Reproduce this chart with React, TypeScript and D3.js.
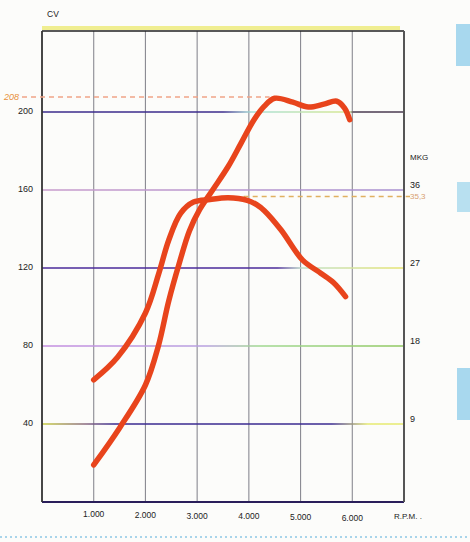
import React from "react";
import * as d3 from "d3";

const W = 470;
const H = 542;

// X axis ticks (RPM)
const rpmTicks = [1000, 2000, 3000, 4000, 5000, 6000];
const rpmLabels = ["1.000", "2.000", "3.000", "4.000", "5.000", "6.000"];

// Left axis (CV)
const cvTicks = [40, 80, 120, 160, 200];
// Right axis (MKG)
const mkgTicks = [9, 18, 27, 36];

// Power curve (CV)
const powerRpm = [1000, 1500, 2000, 2250, 2450, 2650, 2850, 3050, 3300, 3600, 3850, 4100, 4300, 4500, 4850, 5150, 5450, 5700, 5850, 5950];
const powerCv = [19, 38, 60, 80, 103, 122, 139, 150, 160, 172, 184, 196, 203, 207, 205, 202.5, 204, 205.5, 202, 196];

// Torque curve (MKG)
const torqueRpm = [1000, 1460, 2000, 2260, 2450, 2680, 2930, 3250, 3600, 3970, 4150, 4300, 4620, 5040, 5390, 5640, 5870];
const torqueMkg = [14.1, 16.7, 21.8, 26.4, 30.2, 33.3, 34.6, 34.9, 35.1, 34.8, 34.3, 33.6, 31.4, 27.9, 26.4, 25.3, 23.7];

// Max markers
const maxCv = 207.7;
const maxCvLabel = "208";
const maxMkg = 35.25;
const maxMkgLabel = "35,3";

// Gridline colour stops per CV value
const gridColors: Record<number, [number, string][]> = {
  200: [[0, "#3b2b8c"], [0.5, "#3b2b8c"], [0.58, "#a8e0d8"], [0.85, "#d8e890"], [0.86, "#4a3a50"], [1, "#4a3a50"]],
  160: [[0, "#c89ccc"], [1, "#a890d0"]],
  120: [[0, "#4a2a9a"], [0.65, "#4a2a9a"], [0.72, "#c0e0c8"], [1, "#e6e470"]],
  80: [[0, "#c48ee0"], [0.45, "#b8a0e0"], [0.6, "#a0d890"], [1, "#90c860"]],
  40: [[0, "#c8d040"], [0.12, "#8a6a80"], [0.2, "#3a2a90"], [0.8, "#3a2a90"], [0.9, "#e6ea70"], [1, "#e6ea70"]],
};

export default function App() {
  const x = d3.scaleLinear().domain([0, 7000]).range([42, 404]);
  const yCv = d3.scaleLinear().domain([0, 241.5]).range([502, 31]);
  const yMkg = d3.scaleLinear().domain([0, (241.5 * 9) / 40]).range([502, 31]);

  const line = d3.line<[number, number]>().curve(d3.curveCatmullRom.alpha(0.5));
  const powerPath = line(powerRpm.map((r, i) => [x(r), yCv(powerCv[i])] as [number, number])) || "";
  const torquePath = line(torqueRpm.map((r, i) => [x(r), yMkg(torqueMkg[i])] as [number, number])) || "";

  const [x0, x1] = x.range();
  const yTop = yCv(241.5);
  const yBot = yCv(0);
  const font = "'Liberation Sans', Arial, sans-serif";

  return (
    <svg width={W} height={H} style={{ position: "absolute", left: 0, top: 0, background: "#fcfcfa" }}>
      <defs>
        {cvTicks.map((v) => (
          <linearGradient key={v} id={`g${v}`} gradientUnits="userSpaceOnUse" x1={x0} x2={x1} y1={0} y2={0}>
            {gridColors[v].map(([o, c], i) => (
              <stop key={i} offset={o} stopColor={c} />
            ))}
          </linearGradient>
        ))}
      </defs>

      {/* scan decorations */}
      <rect x={456} y={24} width={14} height={42} fill="#a8d8ee" />
      <rect x={457} y={182} width={13} height={30} fill="#b8e0f0" />
      <rect x={457} y={368} width={13} height={52} fill="#a8d8ee" />
      <line x1={0} x2={W} y1={537} y2={537} stroke="#a8d4ea" strokeWidth={2} strokeDasharray="2 3" />

      {/* yellow band above top */}
      <line x1={x0} x2={x1 - 4} y1={yTop - 3} y2={yTop - 3} stroke="#f0ee90" strokeWidth={4} />

      {/* vertical gridlines */}
      {rpmTicks.map((r) => (
        <line key={r} x1={x(r)} x2={x(r)} y1={yTop} y2={yBot} stroke="#8a8a92" strokeWidth={1.1} />
      ))}

      {/* horizontal gridlines */}
      {cvTicks.map((v) => (
        <line key={v} x1={x0} x2={x1} y1={yCv(v)} y2={yCv(v)} stroke={`url(#g${v})`} strokeWidth={1.6} />
      ))}

      {/* frame */}
      <line x1={x0} x2={x1} y1={yTop} y2={yTop} stroke="#222" strokeWidth={1.6} />
      <line x1={x0} x2={x1} y1={yBot} y2={yBot} stroke="#2a1e5a" strokeWidth={2} />
      <line x1={x0} x2={x0} y1={yTop} y2={yBot} stroke="#333" strokeWidth={1.8} />
      <line x1={x1} x2={x1} y1={yTop} y2={yBot} stroke="#555" strokeWidth={2} />

      {/* max dashed markers */}
      <line x1={22} x2={x(4400)} y1={yCv(maxCv)} y2={yCv(maxCv)} stroke="#f0a488" strokeWidth={1.5} strokeDasharray="5 4" />
      <text x={4} y={yCv(maxCv) + 3} fontSize={9} fontStyle="italic" fill="#e8903a" fontFamily={font}>
        {maxCvLabel}
      </text>
      <line x1={x(3900)} x2={x1 + 6} y1={yMkg(maxMkg)} y2={yMkg(maxMkg)} stroke="#e0b060" strokeWidth={1.5} strokeDasharray="5 4" />
      <text x={410} y={yMkg(maxMkg) + 3} fontSize={8} fill="#d8a070" fontFamily={font}>
        {maxMkgLabel}
      </text>

      {/* curves */}
      <path d={torquePath} fill="none" stroke="#e8441c" strokeWidth={5.5} strokeLinecap="round" strokeLinejoin="round" />
      <path d={powerPath} fill="none" stroke="#e8441c" strokeWidth={5.5} strokeLinecap="round" strokeLinejoin="round" />

      {/* axis titles */}
      <text x={47} y={17} fontSize={8.5} fill="#222" fontFamily={font}>CV</text>
      <text x={410} y={160} fontSize={8} fill="#222" fontFamily={font}>MKG</text>

      {/* left tick labels */}
      {cvTicks.map((v) => (
        <text key={v} x={33} y={yCv(v) + 2} fontSize={9} textAnchor="end" fill="#222" fontFamily={font}>
          {v}
        </text>
      ))}

      {/* right tick labels */}
      {mkgTicks.map((v) => (
        <text key={v} x={410} y={yMkg(v) - 2} fontSize={9} fill="#222" fontFamily={font}>
          {v}
        </text>
      ))}

      {/* bottom tick labels */}
      {rpmTicks.map((r, i) => (
        <text key={r} x={x(r)} y={517 + i * 0.8} fontSize={8.5} textAnchor="middle" fill="#222" fontFamily={font}>
          {rpmLabels[i]}
        </text>
      ))}
      <text x={394} y={519} fontSize={8} fill="#222" fontFamily={font}>R.P.M. .</text>
    </svg>
  );
}
